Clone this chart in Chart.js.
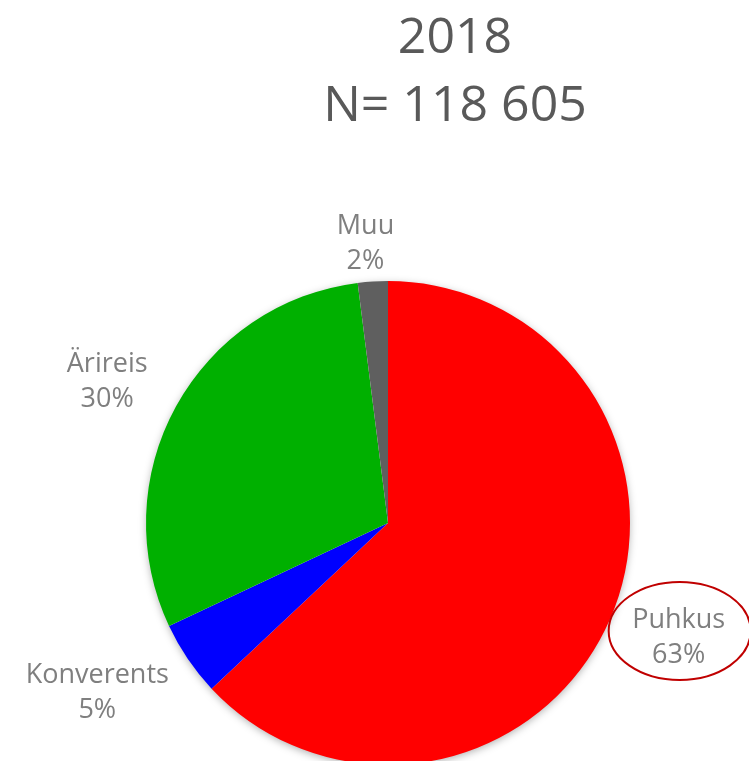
<!DOCTYPE html>
<html>
<head>
<meta charset="utf-8">
<script src="https://cdn.jsdelivr.net/npm/chart.js@4"></script>
<style>
    html, body { margin: 0; padding: 0; background: #fff; overflow: hidden; }
    #wrap { width: 749px; height: 761px; overflow: hidden; }
</style>
</head>
<body>
<div id="wrap"><canvas id="pieChart" width="749" height="770"></canvas></div>
<script>
// Andmed
const titleLines = ['2018', 'N= 118 605'];
const labels = ['Puhkus', 'Konverents', 'Ärireis', 'Muu'];
const values = [63, 5, 30, 2];
const colors = ['#ff0000', '#0000ff', '#00b000', '#5f5f5f'];

// sildi kaugus raadiuse suhtes ja väike nurganihe (kraadides)
const labelDist = [1.29, 1.39, 1.30, 1.16];
const labelNudge = [-2, 4, -2, -1];

const overlayPlugin = {
    id: 'overlay',
    beforeDatasetsDraw(chart) {
        const arc = chart.getDatasetMeta(0).data[0];
        if (!arc) return;
        const ctx = chart.ctx;
        ctx.save();
        ctx.shadowColor = 'rgba(0,0,0,0.35)';
        ctx.shadowBlur = 9;
        ctx.shadowOffsetY = 2;
        ctx.fillStyle = '#ffffff';
        ctx.beginPath();
        ctx.arc(arc.x, arc.y, arc.outerRadius - 1, 0, Math.PI * 2);
        ctx.fill();
        ctx.restore();
    },
    afterDraw(chart) {
        const ctx = chart.ctx;
        const meta = chart.getDatasetMeta(0);
        const total = values.reduce((a, b) => a + b, 0);

        // pealkiri
        ctx.save();
        ctx.fillStyle = '#595959';
        ctx.textAlign = 'center';
        ctx.textBaseline = 'alphabetic';
        ctx.font = '50px "Open Sans"';
        ctx.fillText(titleLines[0], 455, 53);
        ctx.fillText(titleLines[1], 455, 121);
        ctx.restore();

        // sildid
        ctx.save();
        ctx.fillStyle = '#7f7f7f';
        ctx.textAlign = 'center';
        ctx.textBaseline = 'middle';
        ctx.font = '27px "Open Sans"';
        meta.data.forEach((el, i) => {
            const p = el.getProps(['x', 'y', 'startAngle', 'endAngle', 'outerRadius'], true);
            const mid = (p.startAngle + p.endAngle) / 2 + labelNudge[i] * Math.PI / 180;
            const d = p.outerRadius * labelDist[i];
            const lx = p.x + Math.cos(mid) * d;
            const ly = p.y + Math.sin(mid) * d;
            const pct = Math.round(values[i] / total * 100) + '%';
            ctx.fillText(labels[i], lx, ly - 17);
            ctx.fillText(pct, lx, ly + 18);

            // punane ovaal ümber Puhkus sildi
            if (i === 0) {
                ctx.save();
                ctx.strokeStyle = '#c00000';
                ctx.lineWidth = 2;
                ctx.beginPath();
                ctx.ellipse(lx + 1, ly - 6, 71, 49, 0, 0, Math.PI * 2);
                ctx.stroke();
                ctx.restore();
            }
        });
        ctx.restore();
    }
};

const pieCtx = document.getElementById('pieChart');
const pieChart = new Chart(pieCtx, {
    type: 'pie',
    data: {
        labels: labels,
        datasets: [{
            data: values,
            backgroundColor: colors,
            borderWidth: 0
        }]
    },
    options: {
        responsive: false,
        animation: false,
        layout: {
            padding: { left: 146, right: 119, top: 281, bottom: 5 }
        },
        plugins: {
            legend: { display: false },
            tooltip: { enabled: false },
            title: { display: false }
        }
    },
    plugins: [overlayPlugin]
});
</script>
</body>
</html>
